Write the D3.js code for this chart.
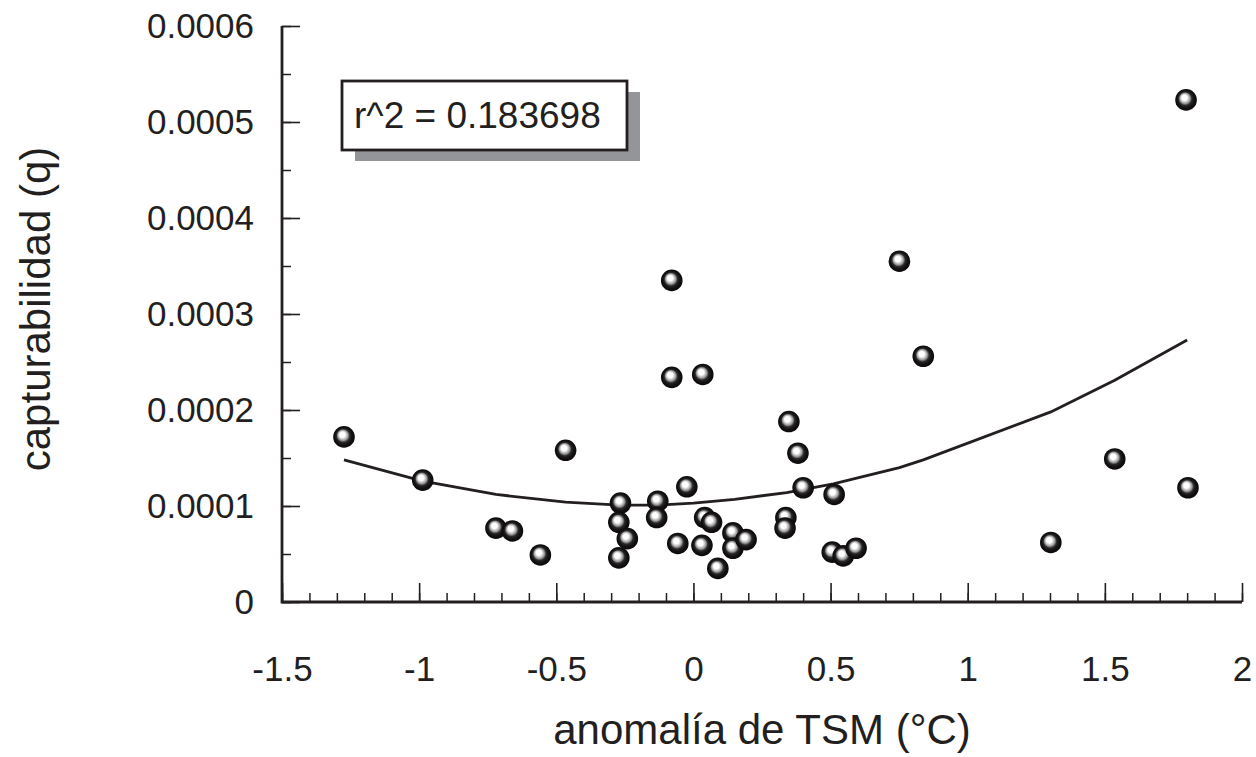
<!DOCTYPE html>
<html>
<head>
<meta charset="utf-8">
<script src="https://cdn.jsdelivr.net/npm/d3@7/dist/d3.min.js"></script>
<style>
  html, body { margin: 0; padding: 0; background: #fff; }
  svg { display: block; font-family: "Liberation Sans", Arial, sans-serif; }
</style>
</head>
<body>
<svg id="chart" width="1256" height="757"></svg>
<script>
// SST anomaly (°C) for each observation
const anomaly = [
  -1.274, -0.987, -0.720, -0.660, -0.558, -0.466,
  -0.266, -0.272, -0.241, -0.272, -0.130, -0.134,
  -0.079, -0.079, -0.057, -0.024, 0.034, 0.031,
  0.041, 0.066, 0.089, 0.144, 0.144, 0.192,
  0.348, 0.381, 0.400, 0.513, 0.337, 0.334,
  0.506, 0.546, 0.593, 0.751, 0.838, 1.303,
  1.536, 1.796, 1.803
];
// catchability (q) for each observation
const catchability = [
  0.000172, 0.000127, 0.000077, 0.000074, 0.000049, 0.000158,
  0.000103, 0.000083, 0.000066, 0.000046, 0.000105, 0.000088,
  0.000335, 0.000234, 0.000061, 0.000120, 0.000237, 0.000059,
  0.000088, 0.000083, 0.000035, 0.000072, 0.000056, 0.000065,
  0.000188, 0.000155, 0.000119, 0.000112, 0.000088, 0.000077,
  0.000052, 0.000048, 0.000056, 0.000355, 0.000256, 0.000062,
  0.000149, 0.000523, 0.000119
];
// fitted curve
const fitX = [-1.274, -0.987, -0.720, -0.466, -0.270, -0.130, 0.000, 0.150, 0.340, 0.510, 0.751, 0.838, 1.303, 1.536, 1.800];
const fitQ = [0.000148, 0.000126, 0.000112, 0.000104, 0.000101, 0.000101, 0.000103, 0.000107, 0.000114, 0.000123, 0.000140, 0.000148, 0.000198, 0.000231, 0.000273];

const xMajor = [-1.5, -1, -0.5, 0, 0.5, 1, 1.5, 2];
const xLabels = ["-1.5", "-1", "-0.5", "0", "0.5", "1", "1.5", "2"];
const yMajor = [0, 0.0001, 0.0002, 0.0003, 0.0004, 0.0005, 0.0006];
const yLabels = ["0", "0.0001", "0.0002", "0.0003", "0.0004", "0.0005", "0.0006"];
const r2Text = "r^2 = 0.183698";

const svg = d3.select("#chart");
const ink = "#231f20";
const font = "'Liberation Sans', Arial, sans-serif";

const x = d3.scaleLinear().domain([-1.5, 2]).range([282, 1242]);
const y = d3.scaleLinear().domain([0, 0.0006]).range([602, 26]);

// shaded ball marker
const defs = svg.append("defs");
const grad = defs.append("radialGradient")
  .attr("id", "ball").attr("cx", "0.5").attr("cy", "0.5").attr("r", "0.5")
  .attr("fx", "0.40").attr("fy", "0.36");
[[0, "#ffffff"], [0.25, "#ffffff"], [0.48, "#9a9a9a"], [0.62, "#2a2829"], [0.8, "#121011"], [1, "#0c0a0b"]]
  .forEach(([o, c]) => grad.append("stop").attr("offset", o).attr("stop-color", c));

// minor ticks
const xMinor = d3.range(-15, 21).map(d => d / 10);
const yMinor = d3.range(0, 13).map(d => d * 0.00005);

svg.append("g").attr("transform", "translate(0,602)")
  .call(d3.axisBottom(x).tickValues(xMinor).tickSize(-9).tickFormat(""))
  .call(g => g.select(".domain").remove())
  .call(g => g.selectAll("line").attr("stroke", ink).attr("stroke-width", 1.5));

svg.append("g").attr("transform", "translate(282,0)")
  .call(d3.axisLeft(y).tickValues(yMinor).tickSize(-9).tickFormat(""))
  .call(g => g.select(".domain").remove())
  .call(g => g.selectAll("line").attr("stroke", ink).attr("stroke-width", 1.5));

// major ticks and labels
const xAxis = svg.append("g").attr("transform", "translate(0,602)")
  .call(d3.axisBottom(x).tickValues(xMajor).tickSize(-19).tickSizeOuter(0)
    .tickFormat((d, i) => xLabels[i]));
xAxis.select(".domain").remove();
xAxis.selectAll("line").attr("stroke", ink).attr("stroke-width", 1.6);
xAxis.selectAll("text")
  .attr("y", 79).attr("dy", null)
  .attr("fill", ink).style("font-size", "35px").style("font-family", font);

const yAxis = svg.append("g").attr("transform", "translate(282,0)")
  .call(d3.axisLeft(y).tickValues(yMajor).tickSize(-18).tickSizeOuter(0).tickPadding(28)
    .tickFormat((d, i) => yLabels[i]));
yAxis.select(".domain").remove();
yAxis.selectAll("line").attr("stroke", ink).attr("stroke-width", 1.6);
yAxis.selectAll("text")
  .attr("fill", ink).style("font-size", "35px").style("font-family", font);

// axis lines
svg.append("path")
  .attr("d", `M${x(-1.5)},${y(0.0006)}V${y(0)}H${x(2)}`)
  .attr("fill", "none").attr("stroke", ink).attr("stroke-width", 2.8);

// fitted curve
const fit = fitX.map((v, i) => [v, fitQ[i]]);
svg.append("path")
  .datum(fit)
  .attr("d", d3.line().x(d => x(d[0])).y(d => y(d[1])))
  .attr("fill", "none").attr("stroke", ink).attr("stroke-width", 2.8);

// observations
const pts = anomaly.map((v, i) => ({ a: v, q: catchability[i] }));
svg.append("g").selectAll("circle").data(pts).join("circle")
  .attr("cx", d => x(d.a)).attr("cy", d => y(d.q))
  .attr("r", 10.8)
  .attr("fill", "url(#ball)");

// r² box with drop shadow
const box = svg.append("g");
box.append("rect").attr("x", 355).attr("y", 92).attr("width", 285).attr("height", 69).attr("fill", "#939598");
box.append("rect").attr("x", 342).attr("y", 81).attr("width", 285).attr("height", 69)
  .attr("fill", "#fff").attr("stroke", ink).attr("stroke-width", 2.8);
box.append("text").attr("x", 354).attr("y", 128)
  .attr("fill", ink).style("font-size", "37px").text(r2Text);

// axis titles
svg.append("text")
  .attr("x", 762).attr("y", 744).attr("text-anchor", "middle")
  .attr("fill", ink).style("font-size", "42px")
  .text("anomalía de TSM (°C)");

svg.append("text")
  .attr("transform", "translate(50,309) rotate(-90)")
  .attr("text-anchor", "middle")
  .attr("fill", ink).style("font-size", "42px")
  .text("capturabilidad (q)");
</script>
</body>
</html>
